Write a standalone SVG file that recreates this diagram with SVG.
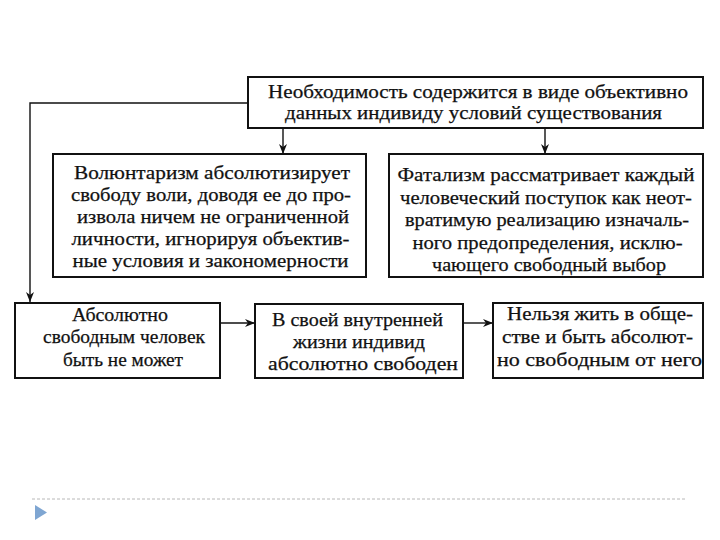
<svg xmlns="http://www.w3.org/2000/svg" width="720" height="540" viewBox="0 0 720 540">
<style>
.box{fill:#fff;stroke:#111;stroke-width:2}
.t{font-family:"Liberation Serif","Times New Roman",serif;font-size:19px;fill:#111;stroke:#111;stroke-width:0.25;text-anchor:middle}
.c{fill:none;stroke:#111;stroke-width:1.4}
</style>
<defs>
<marker id="ah" viewBox="0 0 10 8" refX="10" refY="4" markerWidth="10" markerHeight="8" markerUnits="userSpaceOnUse" orient="auto">
<path d="M0,0 L10,4 L0,8 L3,4 Z" fill="#111"/>
</marker>
</defs>
<rect width="720" height="540" fill="#fff"/>
<g id="connectors">
<polyline class="c" points="248,103 30,103 30,302" marker-end="url(#ah)"/>
<line class="c" x1="283" y1="128" x2="283" y2="154" marker-end="url(#ah)"/>
<line class="c" x1="545" y1="128" x2="545" y2="154" marker-end="url(#ah)"/>
<line class="c" x1="220" y1="323" x2="255" y2="323" marker-end="url(#ah)"/>
<line class="c" x1="463" y1="323" x2="493" y2="323" marker-end="url(#ah)"/>
</g>
<g id="n-top">
<rect class="box" x="248" y="77" width="455" height="51"/>
<text class="t" x="478" y="98" textLength="420" lengthAdjust="spacingAndGlyphs">Необходимость содержится в виде объективно</text>
<text class="t" x="473.5" y="119" textLength="377" lengthAdjust="spacingAndGlyphs">данных индивиду условий существования</text>
</g>
<g id="n-volunt">
<rect class="box" x="53" y="154" width="313" height="123"/>
<text class="t" x="212" y="179" textLength="276" lengthAdjust="spacingAndGlyphs">Волюнтаризм  абсолютизирует</text>
<text class="t" x="211" y="201" textLength="280" lengthAdjust="spacingAndGlyphs">свободу воли, доводя ее до про-</text>
<text class="t" x="213" y="223" textLength="272" lengthAdjust="spacingAndGlyphs">извола ничем не ограниченной</text>
<text class="t" x="210.5" y="245" textLength="278" lengthAdjust="spacingAndGlyphs">личности, игнорируя объектив-</text>
<text class="t" x="210.5" y="267" textLength="276" lengthAdjust="spacingAndGlyphs">ные условия и закономерности</text>
</g>
<g id="n-fatal">
<rect class="box" x="389" y="154" width="314" height="123"/>
<text class="t" x="546" y="181" textLength="297" lengthAdjust="spacingAndGlyphs">Фатализм рассматривает каждый</text>
<text class="t" x="546" y="203.5" textLength="292" lengthAdjust="spacingAndGlyphs">человеческий поступок как неот-</text>
<text class="t" x="547" y="226" textLength="284" lengthAdjust="spacingAndGlyphs">вратимую реализацию изначаль-</text>
<text class="t" x="547.5" y="248.5" textLength="270" lengthAdjust="spacingAndGlyphs">ного предопределения, исклю-</text>
<text class="t" x="549" y="271" textLength="234" lengthAdjust="spacingAndGlyphs">чающего свободный выбор</text>
</g>
<g id="n-abs">
<rect class="box" x="15" y="303" width="205" height="75"/>
<text class="t" x="120" y="321" textLength="96" lengthAdjust="spacingAndGlyphs">Абсолютно</text>
<text class="t" x="124" y="343" textLength="162" lengthAdjust="spacingAndGlyphs">свободным человек</text>
<text class="t" x="123" y="366" textLength="120" lengthAdjust="spacingAndGlyphs">быть не может</text>
</g>
<g id="n-inner">
<rect class="box" x="255" y="304" width="208" height="74"/>
<text class="t" x="357.5" y="326" textLength="171" lengthAdjust="spacingAndGlyphs">В своей внутренней</text>
<text class="t" x="359" y="348" textLength="132" lengthAdjust="spacingAndGlyphs">жизни индивид</text>
<text class="t" x="363" y="370" textLength="190" lengthAdjust="spacingAndGlyphs">абсолютно свободен</text>
</g>
<g id="n-society">
<rect class="box" x="493" y="303" width="210" height="75"/>
<text class="t" x="600" y="320" textLength="186" lengthAdjust="spacingAndGlyphs">Нельзя жить в обще-</text>
<text class="t" x="597.5" y="343" textLength="191" lengthAdjust="spacingAndGlyphs">стве и быть абсолют-</text>
<text class="t" x="599.5" y="366" textLength="205" lengthAdjust="spacingAndGlyphs">но свободным от него</text>
</g>
<line x1="32" y1="499" x2="687" y2="499" stroke="#b8b8b8" stroke-width="1" stroke-dasharray="3,2"/>
<polygon points="35,505 47,512.5 35,520" fill="#7fa6d2"/>
</svg>
